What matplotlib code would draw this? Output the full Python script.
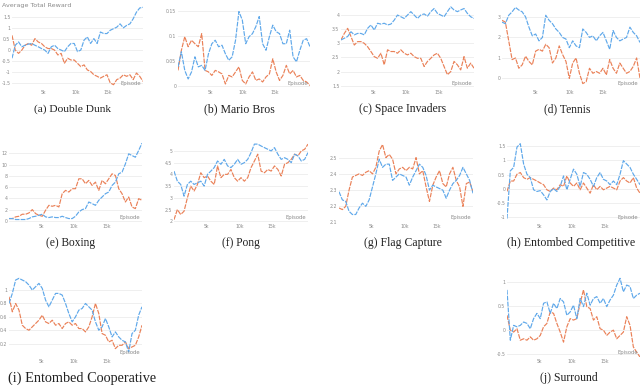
import numpy as np
import matplotlib
matplotlib.use("Agg")
import matplotlib.pyplot as plt
from matplotlib.ticker import FuncFormatter

plt.rcParams['axes.unicode_minus'] = False

# ---------------- data ----------------
titles = ["(a) Double Dunk", "(b) Mario Bros", "(c) Space Invaders", "(d) Tennis",
          "(e) Boxing", "(f) Pong", "(g) Flag Capture", "(h) Entombed Competitive",
          "(i) Entombed Cooperative", "(j) Surround"]

max_episode = 20500
x_ticks = [5000, 10000, 15000]
x_tick_labels = ["5k", "10k", "15k"]

dd_blue = [-0.37, 0.22, 0.37, 0.15, 0.22, 0.27, 0.30, 0.22, 0.15, 0.07, 0, -0.15, 0.15, 0.22, 0.07, 0,
           -0.07, 0.15, 0.30, 0.30, -0.07, 0, 0.45, 0.60, 0.30, 0.52, 0.30, 0.82, 0.75, 0.75, 0.90, 0.97,
           1.04, 1.19, 1.01, 1.12, 1.19, 1.42, 1.72, 1.91, 1.94]
dd_orange = [0.67, 0, -0.15, 0, 0.22, 0.30, 0.22, 0.52, 0.37, 0.30, 0.15, 0.07, 0.07, 0, -0.22, -0.15,
             -0.60, -0.37, -0.45, -0.45, -0.60, -0.75, -0.67, -0.90, -0.97, -1.12, -1.19, -1.27, -1.19,
             -1.12, -1.49, -1.57, -1.34, -1.27, -1.12, -1.19, -1.12, -1.34, -1.04, -1.19, -1.42]

mb_blue = [0.039, 0.069, 0.032, 0.015, 0.029, 0.059, 0.039, 0.042, 0.032, 0.065, 0.085, 0.092, 0.079,
           0.082, 0.065, 0.052, 0.059, 0.092, 0.149, 0.132, 0.085, 0.099, 0.105, 0.119, 0.139, 0.085,
           0.072, 0.099, 0.122, 0.109, 0.105, 0.085, 0.085, 0.112, 0.059, 0.049, 0.072, 0.092, 0.095, 0.079]
mb_orange = [0.032, 0.072, 0.099, 0.079, 0.092, 0.085, 0.079, 0.105, 0.032, 0.029, 0.022, 0.032, 0.029,
             0.025, 0.005, 0.022, 0.019, 0.029, 0.039, 0.012, 0.005, 0.019, 0.029, 0.012, 0.015, 0.009,
             0.019, 0.025, 0.055, 0.029, 0.012, 0.022, 0.042, 0.025, 0.032, 0.019, 0.022, 0.012, 0.009, 0.002]

si_blue = [3.12, 3.18, 3.24, 3.41, 3.30, 3.35, 3.35, 3.30, 3.53, 3.65, 3.47, 3.71, 3.68, 3.71, 3.65, 3.68,
           3.82, 4.00, 3.94, 3.88, 4.00, 4.12, 4.00, 3.88, 4.00, 4.04, 3.96, 4.12, 4.23, 4.06, 4.00, 3.94,
           4.12, 4.29, 4.18, 4.12, 4.18, 4.23, 4.06, 3.94, 3.88]
si_orange = [3.12, 3.35, 3.53, 3.24, 2.94, 3.06, 3.06, 3.00, 2.88, 2.71, 2.53, 2.47, 2.65, 2.24, 2.77, 2.71,
             2.71, 2.65, 2.77, 2.65, 2.59, 2.65, 2.53, 2.47, 2.47, 2.18, 2.36, 2.47, 2.59, 2.65, 2.47, 2.18,
             1.89, 2.00, 2.36, 2.24, 2.06, 2.53, 2.12, 2.30, 2.12]

te_blue = [2.76, 2.68, 3.10, 3.27, 3.49, 3.36, 3.27, 3.02, 2.51, 2.08, 2.17, 1.83, 2.00, 3.10, 2.85, 2.68,
           2.42, 2.25, 2.00, 1.92, 1.49, 1.83, 1.58, 1.49, 2.42, 2.25, 2.00, 2.08, 1.83, 2.08, 2.25, 1.83,
           1.41, 2.34, 2.00, 1.83, 1.92, 2.00, 2.51, 2.25, 2.08, 1.75]
te_orange = [2.85, 2.76, 1.83, 0.90, 0.98, 0.47, 0.64, 1.07, 0.81, 0.64, 1.32, 1.41, 1.32, 1.66, 1.49, 0.73,
             0.98, 1.58, 1.15, 0.81, -0.03, 0.73, 0.98, 0.22, -0.29, -0.20, 0.47, 0.22, 0.31, 0.22, 0.47,
             0.14, 0.90, 0.47, 0.22, 0.73, 0.47, 0.22, 0.31, 0.56, 0.98, -0.03]

bx_blue = [0.41, 0.41, 0.24, 0.24, 0.24, 0.24, 0.41, 0.71, 0.82, 1.0, 1.18, 0.71, 0.59, 0.71, 0.59, 0.59,
           0.82, 0.59, 0.41, 0.41, 0.82, 1.59, 2.0, 2.18, 3.35, 3.06, 2.76, 3.65, 4.24, 4.82, 5.12, 6.29,
           6.88, 8.35, 8.65, 10.1, 11.9, 11.6, 11.3, 12.5, 13.8]
bx_orange = [0.41, 0.41, 0.71, 0.82, 1.18, 1.18, 1.41, 2.0, 1.29, 1.0, 0.82, 1.88, 2.76, 2.59, 2.76, 2.47,
             4.82, 5.41, 5.12, 5.71, 5.71, 7.47, 7.47, 6.59, 7.18, 6.29, 6.88, 5.41, 7.18, 6.59, 7.47, 8.35,
             8.06, 5.71, 4.82, 3.35, 4.24, 2.47, 2.18, 3.94, 3.65]

po_blue = [4.14, 3.71, 3.57, 3.07, 3.57, 3.71, 3.57, 3.64, 3.71, 3.5, 4.0, 4.14, 4.29, 4.57, 4.43, 4.64,
           4.36, 4.29, 4.43, 4.64, 4.43, 4.5, 4.64, 4.93, 5.29, 5.29, 5.21, 5.14, 5.07, 5.0, 5.14, 4.86,
           4.64, 4.71, 4.64, 4.5, 4.86, 4.79, 4.57, 4.64, 4.93]
po_orange = [2.07, 2.5, 2.29, 2.43, 3.0, 3.5, 3.29, 3.57, 4.07, 3.86, 3.93, 3.71, 3.57, 4.36, 3.86, 4.0,
             4.0, 4.21, 3.86, 3.71, 3.86, 3.71, 3.86, 4.29, 4.57, 4.86, 4.14, 4.07, 4.21, 4.14, 4.36, 4.21,
             3.93, 4.43, 4.5, 4.64, 4.86, 4.79, 5.0, 5.07, 5.29]

fc_blue = [2.288, 2.237, 2.227, 2.165, 2.145, 2.145, 2.186, 2.216, 2.196, 2.237, 2.318, 2.4, 2.492, 2.441,
           2.461, 2.461, 2.359, 2.38, 2.4, 2.39, 2.38, 2.329, 2.38, 2.42, 2.461, 2.441, 2.39, 2.298, 2.329,
           2.318, 2.308, 2.298, 2.247, 2.298, 2.339, 2.359, 2.39, 2.441, 2.4, 2.359, 2.278]
fc_orange = [2.186, 2.176, 2.196, 2.298, 2.38, 2.39, 2.4, 2.39, 2.41, 2.42, 2.4, 2.441, 2.543, 2.584, 2.502,
             2.522, 2.492, 2.4, 2.431, 2.441, 2.42, 2.441, 2.431, 2.502, 2.4, 2.42, 2.318, 2.227, 2.329,
             2.38, 2.42, 2.339, 2.318, 2.4, 2.441, 2.359, 2.318, 2.196, 2.339, 2.349, 2.288]

ec_blue = [-1.06, 0.63, 0.75, 1.47, 1.59, 0.87, 0.51, 0.39, -0.04, -0.1, -0.07, -0.22, -0.4, -0.1, 0, -0.1,
           0.08, 0.45, -0.04, 0.33, 0.69, 0.51, 0.08, 0.57, 0.51, 0.33, 0.08, 0.39, 0.57, 0.33, 0.27, 0.14,
           0.27, 0.14, 0.51, 0.99, 0.87, 0.75, 0.51, 0.33, 0.14]
ec_orange = [-0.1, 0.27, 0.27, 0.51, 0.57, 0.39, 0.33, 0.39, 0.33, 0.27, 0.2, 0.14, -0.04, -0.1, 0.02, -0.04,
             0.14, 0.08, 0.45, 0.2, 0.08, 0.2, -0.04, 0.2, 0.02, -0.16, 0.14, -0.04, 0.08, -0.04, 0.02, 0.08,
             0.02, -0.04, 0.27, 0.39, 0.27, 0.2, 0.39, 0.02, -0.16]

eo_blue = [0.8, 0.95, 1.15, 1.175, 1.15, 1.125, 1.075, 1.0, 1.05, 1.1, 1.025, 0.85, 0.75, 0.85, 0.95, 0.95,
           0.925, 0.8, 0.65, 0.525, 0.6, 0.7, 0.725, 0.8, 0.75, 0.7, 0.525, 0.4, 0.45, 0.575, 0.45, 0.3,
           0.375, 0.3, 0.25, 0.225, 0.075, 0.35, 0.4, 0.625, 0.75]
eo_orange = [0.9, 0.675, 0.8, 0.7, 0.475, 0.425, 0.4, 0.45, 0.5, 0.55, 0.625, 0.525, 0.5, 0.55, 0.475, 0.5,
             0.425, 0.5, 0.525, 0.475, 0.5, 0.425, 0.425, 0.375, 0.45, 0.6, 0.8, 0.65, 0.35, 0.325, 0.225,
             0.25, 0.125, 0.175, 0.175, 0.225, 0.125, 0.15, 0.175, 0.3, 0.475]

su_blue = [0.83, -0.22, 0.09, 0.06, 0.09, 0.16, 0.13, 0.02, 0.23, 0.34, 0.23, 0.55, 0.58, 0.34, 0.55, 0.44,
           0.65, 0.58, 0.3, 0.37, 0.51, 0.23, 0.65, 0.48, 0.76, 0.51, 0.65, 0.69, 0.55, 0.65, 0.48, 0.62,
           0.72, 0.93, 1.07, 0.79, 0.93, 0.9, 0.65, 0.72, 0.76]
su_orange = [0.3, -0.01, -0.05, 0.02, -0.22, -0.19, -0.22, -0.15, -0.22, -0.19, -0.12, 0.06, 0.13, 0.37,
             0.34, 0.13, -0.05, -0.26, 0.06, 0.23, 0.2, 0.23, 0.55, 0.83, 0.48, 0.44, 0.2, 0.27, 0.02,
             -0.01, -0.12, -0.05, -0.01, -0.19, -0.12, -0.05, 0.27, 0.09, -0.36, -0.47, -0.57]

series_blue = [dd_blue, mb_blue, si_blue, te_blue, bx_blue, po_blue, fc_blue, ec_blue, eo_blue, su_blue]
series_orange = [dd_orange, mb_orange, si_orange, te_orange, bx_orange, po_orange, fc_orange, ec_orange,
                 eo_orange, su_orange]

y_ticks = [[-1.5, -1, -0.5, 0, 0.5, 1, 1.5],
           [0, 0.05, 0.1, 0.15],
           [1.5, 2, 2.5, 3, 3.5, 4],
           [0, 1, 2, 3],
           [0, 2, 4, 6, 8, 10, 12],
           [2, 2.5, 3, 3.5, 4, 4.5, 5],
           [2.1, 2.2, 2.3, 2.4, 2.5],
           [-1, -0.5, 0, 0.5, 1, 1.5],
           [0.2, 0.4, 0.6, 0.8, 1],
           [-0.5, 0, 0.5, 1]]

# ---------------- layout / style ----------------
y_limits = [(-1.72, 2.0), (-0.003, 0.16), (1.42, 4.32), (-0.51, 3.56), (-0.2, 14.0),
            (1.97, 5.38), (2.098, 2.6), (-1.18, 1.65), (0.0, 1.225), (-0.57, 1.14)]

# pixel boxes (left, right) per panel and (top, bottom) per row
rows = [(6, 88), (142, 222), (275, 357)]
cols_px = [(12, 143), (178, 310), (341, 474), (502, 640),
           (9, 142), (174, 308), (339, 473), (507, 640),
           (9, 142), (507, 640)]
row_of = [0, 0, 0, 0, 1, 1, 1, 1, 2, 2]
title_y = [109, 243, 378]
title_cx = [72, 239, 403, 567, 71, 241, 403, 571, 82, 569]
title_size = [8.2, 8.5, 8.5, 8.3, 8.3, 8.3, 8.5, 8.6, 10.3, 8.5]

W, H = 640, 385
BLUE = "#5fa8ea"
ORANGE = "#ea8158"
GRID = "#ececec"
TXT = "#8a8a8a"

fig = plt.figure(figsize=(6.4, 3.85), dpi=100)

fmt = FuncFormatter(lambda v, p: f"{v:g}")

for i in range(10):
    l, r = cols_px[i]
    t, b = rows[row_of[i]]
    ax = fig.add_axes([l / W, 1 - b / H, (r - l) / W, (b - t) / H])
    xb = np.linspace(0, max_episode, len(series_blue[i]))
    xo = np.linspace(0, max_episode, len(series_orange[i]))
    ax.plot(xo, series_orange[i], color=ORANGE, lw=0.85, ls=(0, (4, 1)))
    ax.plot(xb, series_blue[i], color=BLUE, lw=0.85, ls=(0, (4, 1)))
    ax.set_xlim(0, max_episode)
    ax.set_ylim(*y_limits[i])
    ax.set_xticks(x_ticks)
    ax.set_xticklabels(x_tick_labels)
    ax.set_yticks(y_ticks[i])
    ax.yaxis.set_major_formatter(fmt)
    ax.tick_params(length=0, labelsize=3.3, colors=TXT, pad=1.2)
    ax.grid(axis='y', color=GRID, lw=0.6)
    ax.set_axisbelow(True)
    for s in ax.spines.values():
        s.set_visible(False)
    ax.text(0.985, 0.03, "Episode", transform=ax.transAxes, ha='right', va='bottom',
            fontsize=3.8, color=TXT)
    fig.text(title_cx[i] / W, 1 - title_y[row_of[i]] / H, titles[i], ha='center', va='center',
             fontsize=title_size[i], family='Liberation Serif', color='#222222')

fig.text(2 / W, 1 - 5 / H, "Average Total Reward", ha='left', va='center', fontsize=4.6, color=TXT)

fig.savefig("out.png", dpi=100)
